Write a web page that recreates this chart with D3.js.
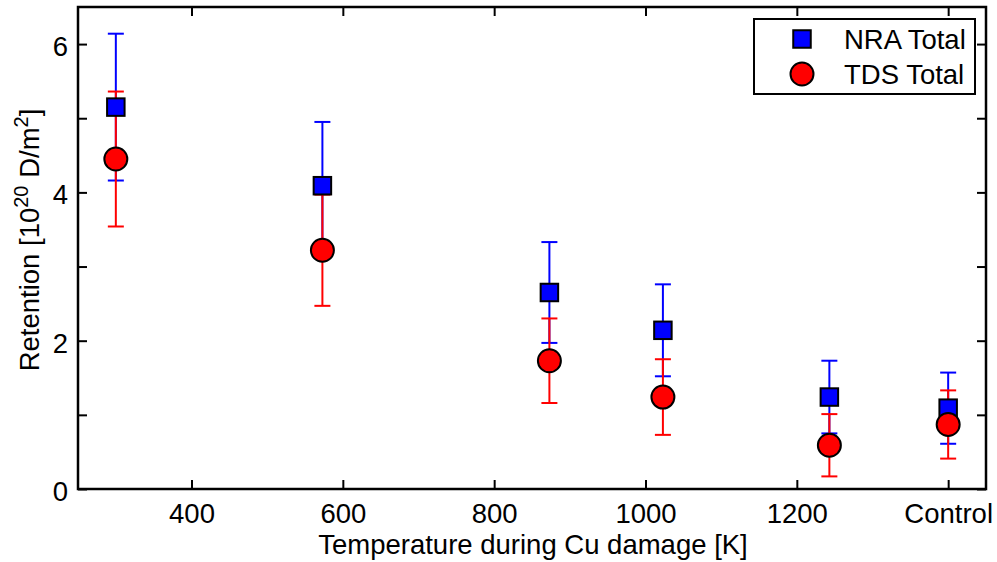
<!DOCTYPE html>
<html>
<head>
<meta charset="utf-8">
<script src="https://cdn.jsdelivr.net/npm/d3@7"></script>
<style>
  body { margin: 0; background: #fff; }
  svg { display: block; font-family: "Liberation Sans", Arial, sans-serif; }
</style>
</head>
<body>
<svg id="chart" width="997" height="562"></svg>
<script>
// ---- data ----
const temperatures = [300, 573, 873, 1023, 1243, 1400];
const nraTotal = [5.15, 4.09, 2.65, 2.14, 1.24, 1.09];
const nraError = [0.99, 0.86, 0.68, 0.62, 0.49, 0.48];
const tdsTotal = [4.45, 3.22, 1.73, 1.24, 0.59, 0.87];
const tdsError = [0.91, 0.75, 0.57, 0.51, 0.42, 0.46];
const xTickValues = [400, 600, 800, 1000, 1200, 1400];
const xTickLabels = ["400", "600", "800", "1000", "1200", "Control"];
const yTickValues = [0, 1, 2, 3, 4, 5, 6];
const yTickLabels = ["0", "", "2", "", "4", "", "6"];
const seriesNames = ["NRA Total", "TDS Total"];

const svg = d3.select("#chart");
const L = 78, R = 986, T = 7, B = 489;
const x = d3.scaleLinear().domain([250, 1450]).range([L, R]);
const y = d3.scaleLinear().domain([0, 6.5]).range([B, T]);
const fs = 27.5;

// axes (ticks inward)
const tickLen = 9;
const xb = svg.append("g").attr("transform", `translate(0,${B})`)
  .call(d3.axisBottom(x).tickValues(xTickValues).tickSize(-tickLen).tickPadding(14)
    .tickFormat((d, i) => xTickLabels[i]));
const xt = svg.append("g").attr("transform", `translate(0,${T})`)
  .call(d3.axisTop(x).tickValues(xTickValues).tickSize(-tickLen).tickFormat(""));
const yl = svg.append("g").attr("transform", `translate(${L},0)`)
  .call(d3.axisLeft(y).tickValues(yTickValues).tickSize(-tickLen).tickPadding(10)
    .tickFormat((d, i) => yTickLabels[i]));
const yr = svg.append("g").attr("transform", `translate(${R},0)`)
  .call(d3.axisRight(y).tickValues(yTickValues).tickSize(-tickLen).tickFormat(""));
[xb, xt, yl, yr].forEach(g => {
  g.select(".domain").remove();
  g.selectAll(".tick line").attr("stroke", "#000").attr("stroke-width", 2);
  g.selectAll("text").attr("font-size", fs).attr("fill", "#000")
    .attr("font-family", "Liberation Sans, Arial, sans-serif");
});
yl.selectAll("text").attr("dy", "0.42em");
xb.selectAll("text").attr("dy", "0.71em");

svg.append("rect").attr("x", L).attr("y", T).attr("width", R - L).attr("height", B - T)
  .attr("fill", "none").attr("stroke", "#000").attr("stroke-width", 2.5);

// error bars
function errorBars(vals, errs, color) {
  const g = svg.append("g").attr("stroke", color).attr("stroke-width", 2).attr("fill", "none");
  const cap = 8;
  temperatures.forEach((t, i) => {
    const cx = x(t), y1 = y(vals[i] + errs[i]), y0 = y(vals[i] - errs[i]);
    g.append("line").attr("x1", cx).attr("x2", cx).attr("y1", y1).attr("y2", y0);
    g.append("line").attr("x1", cx - cap).attr("x2", cx + cap).attr("y1", y1).attr("y2", y1);
    g.append("line").attr("x1", cx - cap).attr("x2", cx + cap).attr("y1", y0).attr("y2", y0);
  });
}
errorBars(nraTotal, nraError, "#0000ff");
errorBars(tdsTotal, tdsError, "#ff0000");

const sq = 17.5, rad = 11.5;
svg.append("g").selectAll("rect").data(nraTotal).join("rect")
  .attr("x", (d, i) => x(temperatures[i]) - sq / 2).attr("y", d => y(d) - sq / 2)
  .attr("width", sq).attr("height", sq)
  .attr("fill", "#0000ff").attr("stroke", "#000").attr("stroke-width", 2);
svg.append("g").selectAll("circle").data(tdsTotal).join("circle")
  .attr("cx", (d, i) => x(temperatures[i])).attr("cy", d => y(d)).attr("r", rad)
  .attr("fill", "#ff0000").attr("stroke", "#000").attr("stroke-width", 2);

// labels
svg.append("text").attr("x", 533).attr("y", 554).attr("text-anchor", "middle")
  .attr("font-size", fs).text("Temperature during Cu damage [K]");
const yt = svg.append("text").attr("transform", "translate(39,240) rotate(-90)")
  .attr("text-anchor", "middle").attr("font-size", fs);
yt.append("tspan").text("Retention [10");
yt.append("tspan").attr("font-size", 20).attr("dy", -11).text("20");
yt.append("tspan").attr("dy", 11).text(" D/m");
yt.append("tspan").attr("font-size", 20).attr("dy", -11).text("2");
yt.append("tspan").attr("dy", 11).text("]");

// legend
const lg = svg.append("g");
lg.append("rect").attr("x", 754).attr("y", 19).attr("width", 221).attr("height", 75)
  .attr("fill", "#fff").attr("stroke", "#000").attr("stroke-width", 2);
lg.append("rect").attr("x", 802 - sq / 2).attr("y", 39 - sq / 2).attr("width", sq).attr("height", sq)
  .attr("fill", "#0000ff").attr("stroke", "#000").attr("stroke-width", 2);
lg.append("circle").attr("cx", 802).attr("cy", 74).attr("r", rad)
  .attr("fill", "#ff0000").attr("stroke", "#000").attr("stroke-width", 2);
lg.append("text").attr("x", 844).attr("y", 49).attr("font-size", fs).text(seriesNames[0]);
lg.append("text").attr("x", 844).attr("y", 84).attr("font-size", fs).text(seriesNames[1]);
</script>
</body>
</html>
